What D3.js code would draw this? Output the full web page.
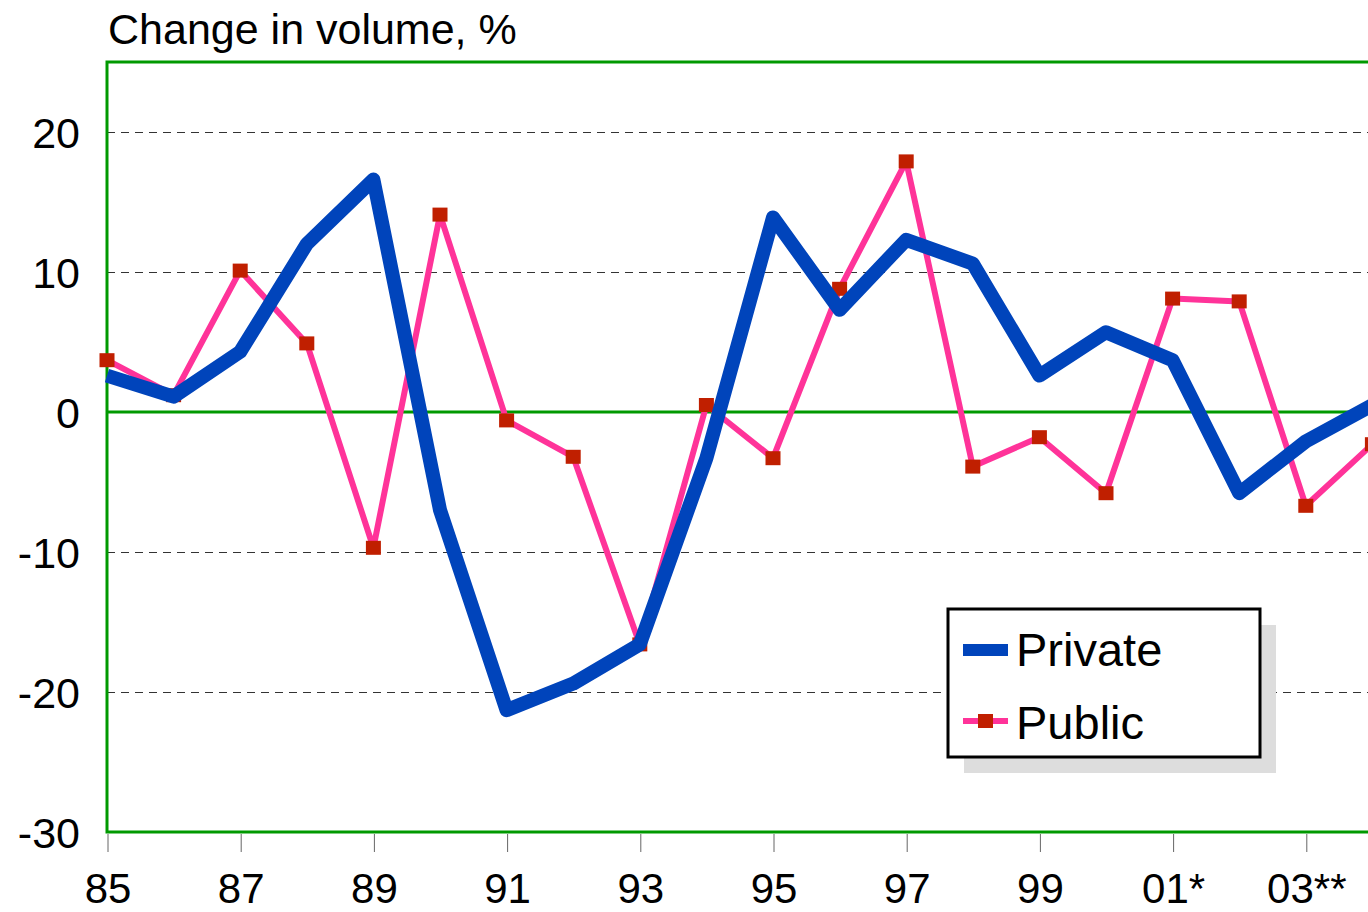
<!DOCTYPE html>
<html>
<head>
<meta charset="utf-8">
<script src="https://cdn.jsdelivr.net/npm/d3@7"></script>
<style>
  body { margin: 0; background: #fff; overflow: hidden; }
  text { font-family: "Liberation Sans", Arial, sans-serif; }
</style>
</head>
<body>
<div id="chart"></div>
<script>
// data
const years = [1985, 1986, 1987, 1988, 1989, 1990, 1991, 1992, 1993, 1994,
  1995, 1996, 1997, 1998, 1999, 2000, 2001, 2002, 2003, 2004]
const privateVals = [2.6, 1.1, 4.3, 12.0, 16.6, -7.0, -21.3, -19.4, -16.6, -3.3,
  13.9, 7.3, 12.3, 10.6, 2.6, 5.7, 3.7, -5.8, -2.1, 0.5]
const publicVals = [3.7, 1.2, 10.1, 4.9, -9.7, 14.1, -0.6, -3.2, -16.6, 0.5,
  -3.3, 8.8, 17.9, -3.9, -1.8, -5.8, 8.1, 7.9, -6.7, -2.3]
const xTickYears = [1985, 1987, 1989, 1991, 1993, 1995, 1997, 1999, 2001, 2003]
const xTickLabels = ['85', '87', '89', '91', '93', '95', '97', '99', '01*', '03**']
const yTicks = [20, 10, 0, -10, -20, -30]
const gridVals = [20, 10, -10, -20]

const width = 1368
const height = 912
const plotLeft = 107, plotTop = 62, plotBottom = 832

const svg = d3.select('#chart')
  .append('svg')
  .attr('width', width)
  .attr('height', height)

const x = d3.scaleLinear().domain([1985, 2004]).range([plotLeft, plotLeft + 19 * 66.6])
const y = d3.scaleLinear().domain([-30, 25]).range([plotBottom, plotTop])

// title
svg.append('text')
  .attr('x', 108)
  .attr('y', 44)
  .attr('font-size', 43)
  .attr('fill', '#000')
  .text('Change in volume, %')

// dashed grid
svg.append('g')
  .selectAll('line')
  .data(gridVals)
  .join('line')
  .attr('x1', plotLeft)
  .attr('x2', width)
  .attr('y1', d => y(d) + 0.5)
  .attr('y2', d => y(d) + 0.5)
  .attr('stroke', '#333')
  .attr('stroke-width', 1)
  .attr('stroke-dasharray', '8,6')

// y axis labels
svg.append('g')
  .selectAll('text')
  .data(yTicks)
  .join('text')
  .attr('x', 80)
  .attr('y', d => y(d) + 16)
  .attr('text-anchor', 'end')
  .attr('font-size', 43)
  .text(d => d)

// x axis ticks + labels
const xAxis = d3.axisBottom(x)
  .tickValues(xTickYears)
  .tickFormat((d, i) => xTickLabels[i])
  .tickSize(18)
  .tickPadding(21)

const xg = svg.append('g')
  .attr('transform', `translate(0.5,${plotBottom + 2})`)
  .call(xAxis)
xg.select('.domain').remove()
xg.selectAll('.tick line').attr('stroke', '#666').attr('stroke-width', 1)
xg.selectAll('.tick text')
  .attr('font-size', 42)
  .attr('fill', '#000')
  .attr('font-family', '"Liberation Sans", Arial, sans-serif')

// frame
svg.append('path')
  .attr('d', `M${width + 5},${plotTop}H${plotLeft}V${plotBottom}H${width + 5}`)
  .attr('fill', 'none')
  .attr('stroke', '#009900')
  .attr('stroke-width', 3)

// zero line
svg.append('line')
  .attr('x1', plotLeft)
  .attr('x2', width)
  .attr('y1', y(0))
  .attr('y2', y(0))
  .attr('stroke', '#009900')
  .attr('stroke-width', 3)

const line = d3.line()
  .x((d, i) => x(years[i]))
  .y(d => y(d))

// public series
svg.append('path')
  .datum(publicVals)
  .attr('d', line)
  .attr('fill', 'none')
  .attr('stroke', '#ff3399')
  .attr('stroke-width', 6)
  .attr('stroke-linejoin', 'round')

svg.append('g')
  .selectAll('rect')
  .data(publicVals)
  .join('rect')
  .attr('x', (d, i) => x(years[i]) - 7.5)
  .attr('y', d => y(d) - 7)
  .attr('width', 15)
  .attr('height', 14)
  .attr('fill', '#c01f00')

// private series on top
svg.append('path')
  .datum(privateVals)
  .attr('d', line)
  .attr('fill', 'none')
  .attr('stroke', '#0044bb')
  .attr('stroke-width', 14)
  .attr('stroke-linejoin', 'round')

// legend
const lg = svg.append('g')
lg.append('rect')
  .attr('x', 964).attr('y', 625)
  .attr('width', 312).attr('height', 148)
  .attr('fill', '#dddddd')
lg.append('rect')
  .attr('x', 948).attr('y', 609)
  .attr('width', 312).attr('height', 148)
  .attr('fill', '#fff')
  .attr('stroke', '#000')
  .attr('stroke-width', 3)
lg.append('line')
  .attr('x1', 963).attr('x2', 1008)
  .attr('y1', 650).attr('y2', 650)
  .attr('stroke', '#0044bb')
  .attr('stroke-width', 12)
lg.append('line')
  .attr('x1', 963).attr('x2', 1008)
  .attr('y1', 721).attr('y2', 721)
  .attr('stroke', '#ff3399')
  .attr('stroke-width', 6)
lg.append('rect')
  .attr('x', 978).attr('y', 714)
  .attr('width', 15).attr('height', 14)
  .attr('fill', '#c01f00')
lg.append('text')
  .attr('x', 1016).attr('y', 666)
  .attr('font-size', 47)
  .text('Private')
lg.append('text')
  .attr('x', 1016).attr('y', 739)
  .attr('font-size', 47)
  .text('Public')
</script>
</body>
</html>
